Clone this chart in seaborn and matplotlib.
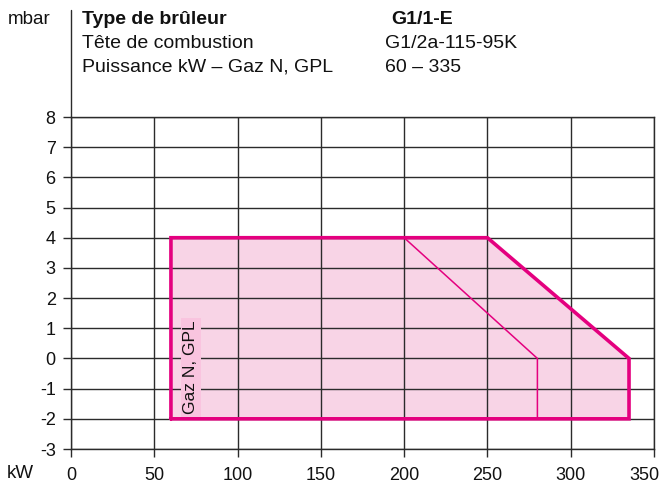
import matplotlib
matplotlib.use("Agg")
import matplotlib.pyplot as plt
import matplotlib.transforms as mtransforms
import seaborn as sns
import pandas as pd
from matplotlib.lines import Line2D

# ---- data ----
outer_kw = [60, 60, 250, 335, 335, 60]
outer_mbar = [-2, 4, 4, 0, -2, -2]
inner_kw = [200, 280, 280]
inner_mbar = [4, 0, -2]
x_ticks = [0, 50, 100, 150, 200, 250, 300, 350]
y_ticks = [-3, -2, -1, 0, 1, 2, 3, 4, 5, 6, 7, 8]
header_left = ["Type de brûleur", "Tête de combustion", "Puissance kW – Gaz N, GPL"]
header_right = ["G1/1-E", "G1/2a-115-95K", "60 – 335"]
region_label = "Gaz N, GPL"

sns.set_theme(style="white")
plt.rcParams['font.family'] = ['Liberation Sans', 'DejaVu Sans']

W, H = 662, 497
fig = plt.figure(figsize=(W / 100, H / 100), dpi=100)
ax_l, ax_r, ax_t, ax_b = 71, 654, 117, 449
ax = fig.add_axes([ax_l / W, 1 - ax_b / H, (ax_r - ax_l) / W, (ax_b - ax_t) / H])

magenta = "#e4007f"
fill_c = "#f8d4e6"
grid_c = "#2b2b2b"
txt_c = "#111111"

ax.fill(outer_kw, outer_mbar, color=fill_c, zorder=0.1, lw=0)

df_o = pd.DataFrame({"kW": outer_kw, "mbar": outer_mbar})
df_i = pd.DataFrame({"kW": inner_kw, "mbar": inner_mbar})
sns.lineplot(data=df_o, x="kW", y="mbar", sort=False, estimator=None, color=magenta,
             lw=2.6, ax=ax, zorder=3, solid_joinstyle="miter")
sns.lineplot(data=df_i, x="kW", y="mbar", sort=False, estimator=None, color=magenta,
             lw=1.1, ax=ax, zorder=3)

ax.set_xlim(0, 350)
ax.set_ylim(-3, 8)
ax.set_xticks(x_ticks)
ax.set_yticks(y_ticks)
ax.set_xticklabels([str(v) for v in x_ticks])
ax.set_yticklabels([str(v) for v in y_ticks])
ax.set_axisbelow(True)
ax.grid(True, color=grid_c, lw=1.0)
for s in ax.spines.values():
    s.set_color(grid_c)
    s.set_linewidth(1.0)
ax.tick_params(axis="both", direction="out", length=6, width=1.0, color=grid_c,
               labelsize=13, labelcolor=txt_c, pad=5)
ax.tick_params(axis="x", pad=7)
ax.tick_params(left=True, bottom=True)
ax.set_xlabel("")
ax.set_ylabel("")

# keep the last x tick label inside the figure
last = ax.get_xticklabels()[-1]
last.set_transform(last.get_transform() + mtransforms.ScaledTranslation(-10 / 100, 0, fig.dpi_scale_trans))

# extended left axis line up to the header
fig.add_artist(Line2D([ax_l / W, ax_l / W], [1 - ax_t / H, 1 - 10 / H], color=grid_c, lw=1.0))

# region label
ax.text(72, -1.85, region_label, rotation=90, ha="center", va="bottom", fontsize=12.5,
        family=['Liberation Sans', 'DejaVu Sans'], color=txt_c, zorder=4,
        bbox=dict(boxstyle="square,pad=0.15", fc="#f9c4df", ec="none"))

# header text
fig.text(8 / W, 1 - 19 / H, "mbar", fontsize=13.5, va="center", ha="left", color=txt_c)
fig.text(7 / W, 1 - 473 / H, "kW", fontsize=13.5, va="center", ha="left", color=txt_c)
ys = [19, 43, 67]
for i, t in enumerate(header_left):
    fig.text(82 / W, 1 - ys[i] / H, t, fontsize=14, va="center", ha="left",
             fontweight="bold" if i == 0 else "normal", color=txt_c)
xs_r = [391, 385, 385]
for i, t in enumerate(header_right):
    fig.text(xs_r[i] / W, 1 - ys[i] / H, t, fontsize=14, va="center", ha="left",
             fontweight="bold" if i == 0 else "normal", color=txt_c)

fig.savefig("out.png", dpi=100)
